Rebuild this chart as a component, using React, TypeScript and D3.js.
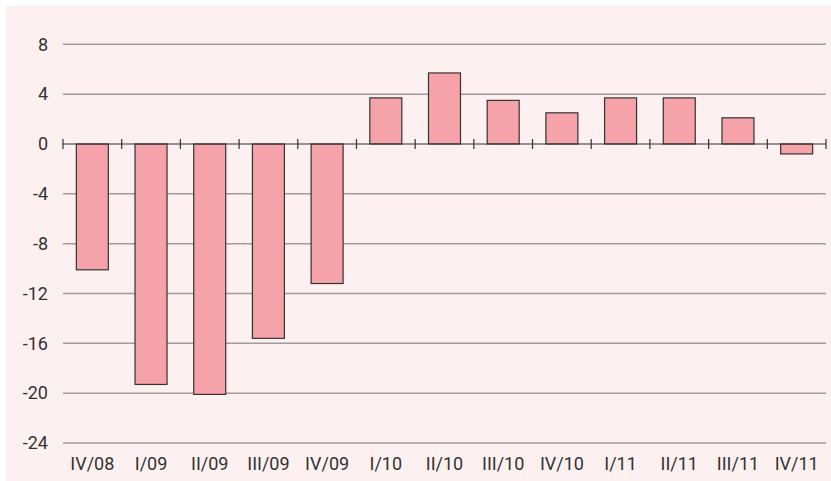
import { useEffect, useRef } from "react";
import * as d3 from "d3";

const categories = ["IV/08", "I/09", "II/09", "III/09", "IV/09", "I/10", "II/10", "III/10", "IV/10", "I/11", "II/11", "III/11", "IV/11"];
const values = [-10.1, -19.3, -20.1, -15.6, -11.2, 3.7, 5.7, 3.5, 2.5, 3.7, 3.7, 2.1, -0.8];
const yTicks = [8, 4, 0, -4, -8, -12, -16, -20, -24];

export default function App() {
  const ref = useRef<SVGSVGElement>(null);

  useEffect(() => {
    if (!ref.current) return;
    const svg = d3.select(ref.current);
    svg.selectAll("*").remove();

    const width = 831;
    const height = 481;
    const left = 63, right = 826;

    const x = d3.scaleBand().domain(categories).range([left, right]).paddingInner(0.455).paddingOuter(0.2275);
    const y = d3.scaleLinear().domain([-24, 8]).range([443, 44.3]);

    // background
    svg.append("rect")
      .attr("x", 6).attr("y", 6)
      .attr("width", width - 6).attr("height", height - 6)
      .attr("fill", "#fdf0f0");

    // gridlines
    svg.append("g")
      .selectAll("line")
      .data(yTicks.filter(d => d !== 0))
      .enter()
      .append("line")
      .attr("x1", left).attr("x2", right)
      .attr("y1", d => y(d)).attr("y2", d => y(d))
      .attr("stroke", "#a09c9c")
      .attr("stroke-width", 1.5);

    // y labels
    svg.append("g")
      .selectAll("text")
      .data(yTicks)
      .enter()
      .append("text")
      .attr("x", 48)
      .attr("y", d => y(d))
      .attr("dy", "0.35em")
      .attr("text-anchor", "end")
      .attr("font-family", "Roboto, sans-serif")
      .attr("font-size", 18)
      .attr("fill", "#333")
      .text(d => d);

    // bars
    svg.append("g")
      .selectAll("rect")
      .data(values)
      .enter()
      .append("rect")
      .attr("x", (d, i) => x(categories[i])!)
      .attr("width", x.bandwidth())
      .attr("y", d => y(Math.max(0, d)))
      .attr("height", d => Math.abs(y(d) - y(0)))
      .attr("fill", "#f5a3a8")
      .attr("stroke", "#333")
      .attr("stroke-width", 1.2);

    // zero axis with cross ticks
    svg.append("line")
      .attr("x1", left).attr("x2", right)
      .attr("y1", y(0)).attr("y2", y(0))
      .attr("stroke", "#333").attr("stroke-width", 1.2);

    const step = x.step();
    svg.append("g")
      .selectAll("line")
      .data(d3.range(categories.length + 1))
      .enter()
      .append("line")
      .attr("x1", i => left + i * step).attr("x2", i => left + i * step)
      .attr("y1", y(0) - 5).attr("y2", y(0) + 5)
      .attr("stroke", "#333").attr("stroke-width", 1.2);

    // x labels
    svg.append("g")
      .selectAll("text")
      .data(categories)
      .enter()
      .append("text")
      .attr("x", d => x(d)! + x.bandwidth() / 2)
      .attr("y", 470)
      .attr("text-anchor", "middle")
      .attr("font-family", "Roboto, sans-serif")
      .attr("font-size", 18)
      .attr("fill", "#333")
      .text(d => d);
  }, []);

  return (
    <svg ref={ref} width={831} height={481} style={{ position: "absolute", left: 0, top: 0 }} />
  );
}
